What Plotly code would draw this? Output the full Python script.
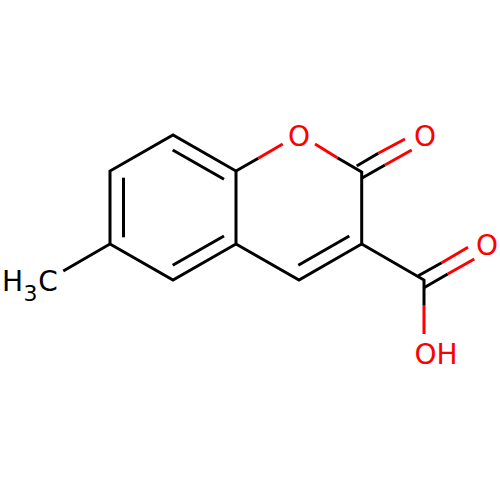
import plotly.graph_objects as go

# Bond paths in picture pixels, None breaks the line
black_x = [63.3, 110, 110, 173, 236, 236, 173, 110, None,
           236, 299, 361.7, 361.7, None,
           361.7, 424, 424, None,
           123.5, 123.5, None,
           172.7, 224, None,
           172.7, 224, None,
           349.3, 298.3, None,
           236, 258.3, None,
           337.3, 361.7, None,
           356.7, 378.3, None,
           361.7, 385, None,
           418.3, 441.7, None,
           424, 447.7]
black_y = [271, 244, 171, 135, 171, 244, 280, 244, None,
           244, 280, 244, 171, None,
           244, 280, 305.7, None,
           177.7, 237.3, None,
           150, 179.3, None,
           265.3, 236, None,
           236, 265.3, None,
           171, 158.3, None,
           157.7, 172, None,
           166, 153.3, None,
           178.3, 165, None,
           275.7, 262.7, None,
           287.7, 274]

red_x = [258.3, 282.7, None, 315, 337.3, None, 378.3, 405, None,
         385, 411.7, None, 441.7, 468, None, 447.7, 474.3, None, 424, 424]
red_y = [158.3, 144, None, 144, 157.7, None, 153.3, 139, None,
         165, 150, None, 262.7, 247.3, None, 274, 259, None, 305.7, 334]

label_red = ["O", "O", "O", "OH"]
label_red_x = [299, 425, 487, 436]
label_red_y = [138.5, 138.5, 247.5, 356.5]

label_black = ["H", "C"]
label_black_x = [12.5, 48]
label_black_y = [284, 284]
sub_label = ["3"]
sub_x = [30.5]
sub_y = [295]

fig = go.Figure()
fig.add_trace(go.Scatter(x=black_x, y=black_y, mode='lines', line=dict(color='black', width=3)))
fig.add_trace(go.Scatter(x=red_x, y=red_y, mode='lines', line=dict(color='#FF0000', width=3)))
fig.add_trace(go.Scatter(x=label_red_x, y=label_red_y, text=label_red, mode='text',
                         textfont=dict(family='DejaVu Sans', size=28, color='#FF0000')))
fig.add_trace(go.Scatter(x=label_black_x, y=label_black_y, text=label_black, mode='text',
                         textfont=dict(family='DejaVu Sans', size=28, color='black')))
fig.add_trace(go.Scatter(x=sub_x, y=sub_y, text=sub_label, mode='text',
                         textfont=dict(family='DejaVu Sans', size=22, color='black')))

fig.update_layout(
    width=500, height=500,
    margin=dict(l=0, r=0, t=0, b=0),
    showlegend=False,
    plot_bgcolor='white',
    paper_bgcolor='white',
    xaxis=dict(range=[0, 500], visible=False, fixedrange=True),
    yaxis=dict(range=[500, 0], visible=False, fixedrange=True),
)

# page has a default body margin, drop it so the plot starts at the corner
fig.write_html("out.html", post_script="document.body.style.margin='0';", config=dict(displayModeBar=False))
